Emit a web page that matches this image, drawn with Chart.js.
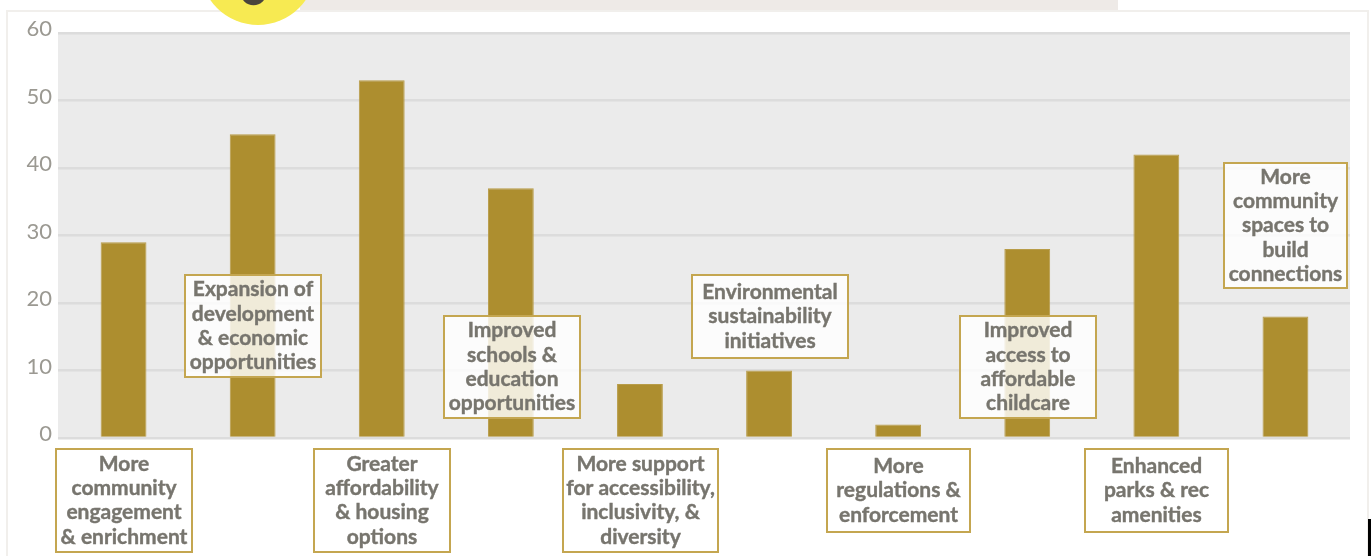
<!DOCTYPE html>
<html>
<head>
<meta charset="utf-8">
<title>Community priorities</title>
<script src="https://cdn.jsdelivr.net/npm/chart.js@4/dist/chart.umd.js"></script>
<style>
  html, body { margin: 0; padding: 0; background: #fff; overflow: hidden; }
  canvas { display: block; }
</style>
</head>
<body>
<canvas id="myChart" width="1371" height="556"></canvas>
<script>
const categories = [
  ["More", "community", "engagement", "& enrichment"],
  ["Expansion of", "development", "& economic", "opportunities"],
  ["Greater", "affordability", "& housing", "options"],
  ["Improved", "schools &", "education", "opportunities"],
  ["More support", "for accessibility,", "inclusivity, &", "diversity"],
  ["Environmental", "sustainability", "initiatives"],
  ["More", "regulations &", "enforcement"],
  ["Improved", "access to", "affordable", "childcare"],
  ["Enhanced", "parks & rec", "amenities"],
  ["More", "community", "spaces to", "build", "connections"],
];
const values = [29, 45, 53, 37, 8, 10, 2, 28, 42, 18];
const yTicks = [0, 10, 20, 30, 40, 50, 60];

// label boxes: [left, top, right, bottom]
const labelBoxes = [
  [55, 448, 193, 553],
  [184, 274, 322, 378],
  [313, 448, 451, 553],
  [443, 315, 581, 419],
  [562, 448, 719, 553],
  [691, 274, 849, 359],
  [826, 448, 971, 533],
  [959, 315, 1097, 419],
  [1084, 448, 1229, 533],
  [1223, 162, 1348, 289],
];

// page bits behind the chart and the plot background
const backdrop = {
  id: "backdrop",
  beforeDraw(chart) {
    const { ctx, chartArea: a } = chart;
    ctx.save();
    ctx.fillStyle = "#fff";
    ctx.fillRect(0, 0, chart.width, chart.height);

    ctx.fillStyle = "#eeeae7";
    ctx.fillRect(300, 0, 818, 11);

    ctx.strokeStyle = "#f1efec";
    ctx.lineWidth = 2;
    ctx.beginPath();
    ctx.moveTo(7, 556);
    ctx.lineTo(7, 11);
    ctx.lineTo(1368, 11);
    ctx.lineTo(1368, 556);
    ctx.stroke();

    ctx.fillStyle = "#f7ea52";
    ctx.beginPath();
    ctx.arc(258, -33, 58, 0, Math.PI * 2);
    ctx.fill();
    ctx.fillStyle = "#4a443c";
    ctx.beginPath();
    ctx.arc(253.5, -7.7, 13, 0, Math.PI * 2);
    ctx.fill();

    ctx.fillStyle = "#000";
    ctx.fillRect(1368, 519, 3, 37);

    ctx.fillStyle = "#ebebeb";
    ctx.fillRect(a.left - 1, a.top, a.right - a.left + 1, a.bottom - a.top);
    ctx.restore();
  },
};

const labelBoxPlugin = {
  id: "labelBoxes",
  afterDatasetsDraw(chart) {
    const { ctx } = chart;
    ctx.save();
    ctx.font = "700 21px Lato";
    ctx.textAlign = "center";
    ctx.textBaseline = "middle";
    categories.forEach((lines, i) => {
      const [l, t, r, b] = labelBoxes[i];
      ctx.fillStyle = "rgba(255,255,255,0.82)";
      ctx.fillRect(l, t, r - l, b - t);
      ctx.strokeStyle = "#c4a650";
      ctx.lineWidth = 2;
      ctx.strokeRect(l + 1, t + 1, r - l - 2, b - t - 2);
      ctx.fillStyle = "#77756e";
      ctx.strokeStyle = "#77756e";
      ctx.lineWidth = 0.4;
      const mid = (t + b) / 2;
      lines.forEach((line, j) => {
        const y = mid + (j - (lines.length - 1) / 2) * 24.3;
        ctx.fillText(line, (l + r) / 2, y);
        ctx.strokeText(line, (l + r) / 2, y);
      });
    });
    ctx.restore();
  },
};

const ctx = document.getElementById("myChart").getContext("2d");
new Chart(ctx, {
  type: "bar",
  data: {
    labels: categories.map((c) => c.join(" ")),
    datasets: [
      {
        label: "Responses",
        data: values,
        backgroundColor: "#ad8e2f",
        borderColor: "#b89c48",
        borderWidth: 1,
        barPercentage: 0.355,
        categoryPercentage: 1,
      },
    ],
  },
  options: {
    responsive: false,
    animation: false,
    layout: { padding: { top: 33, right: 21, bottom: 110, left: 0 } },
    plugins: { legend: { display: false }, tooltip: { enabled: false } },
    scales: {
      x: {
        grid: { display: false },
        border: { display: false },
        ticks: { display: false },
      },
      y: {
        min: 0,
        max: 60,
        afterFit(scale) {
          scale.width = 59;
        },
        afterBuildTicks(scale) {
          scale.ticks = yTicks.map((v) => ({ value: v }));
        },
        grid: { color: "#dcdcdc", lineWidth: 2.5, tickLength: 1 },
        border: { display: false },
        ticks: {
          color: "#9b9992",
          padding: 6,
          labelOffset: -4,
          font: { family: "Lato", size: 22, weight: 400 },
        },
      },
    },
  },
  plugins: [backdrop, labelBoxPlugin],
});
</script>
</body>
</html>
